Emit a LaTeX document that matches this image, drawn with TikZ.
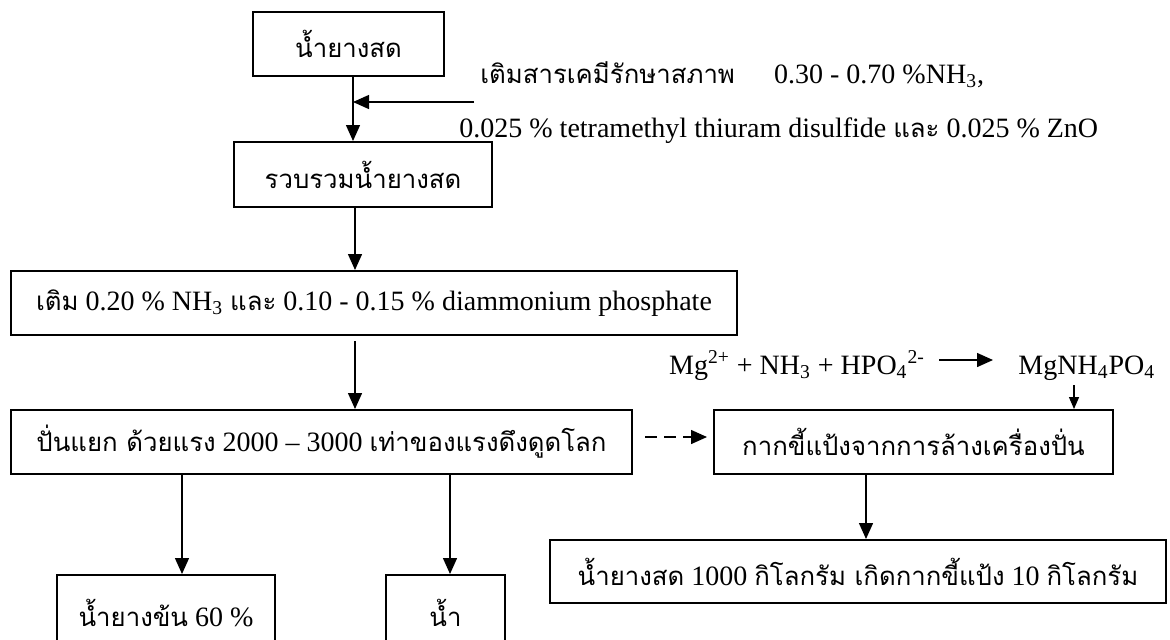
\documentclass[tikz,border=0pt]{standalone}
\usepackage{fontspec}
\setmainfont{Liberation Serif}
\newfontfamily\thaifont[Script=Thai,Scale=0.92]{Loma}
\newcommand{\T}[1]{{\thaifont #1}}
\usetikzlibrary{arrows.meta}
\begin{document}
\begin{tikzpicture}[x=0.5pt,y=-0.5pt,
  font=\fontsize{14}{16}\selectfont,
  box/.style={draw, line width=1pt, inner sep=0pt, minimum height=32pt},
  txt/.style={inner sep=0pt},
  arr/.style={line width=0.7pt, -{Triangle[width=7pt,length=8pt]}},
  arrs/.style={line width=0.7pt, -{Triangle[width=5pt,length=6pt]}},
  dsh/.style={line width=0.7pt, dash pattern=on 6pt off 3.5pt, -{Triangle[width=7pt,length=8pt]}}]
\clip (0,0) rectangle (1170,639);
\fill[white] (0,0) rectangle (1170,639);
% boxes
\node[box, minimum width=95.5pt] (b1) at (348.5,44) {\T{น้ำยางสด}};
\node[box, minimum width=129pt, minimum height=32.5pt] (b2) at (363,174.5) {\T{รวบรวมน้ำยางสด}};
\node[box, minimum width=363pt] (b3) at (374,303) {\T{เติม} 0.20 \% NH\textsubscript{3} \T{และ} 0.10 - 0.15 \% diammonium phosphate};
\node[box, minimum width=310.5pt] (b4) at (321.5,442) {\T{ปั่นแยก ด้วยแรง} 2000 -- 3000 \T{เท่าของแรงดึงดูดโลก}};
\node[box, minimum width=199.5pt] (b5) at (913.5,442) {\T{กากขี้แป้งจากการล้างเครื่องปั่น}};
\node[box, minimum width=308pt, minimum height=31.5pt] (b6) at (858,571.5) {\T{น้ำยางสด} 1000 \T{กิโลกรัม เกิดกากขี้แป้ง} 10 \T{กิโลกรัม}};
\node[box, minimum width=109pt, minimum height=38pt] (b7) at (166,613) {\T{น้ำยางข้น} 60 \%};
\node[box, minimum width=59.5pt, minimum height=38pt] (b8) at (445.5,613) {\T{น้ำ}};
% free texts
\node[txt, anchor=base west] (t1) at (480,83) {\T{เติมสารเคมีรักษาสภาพ}\hspace{1.4em}0.30 - 0.70 \%NH\textsubscript{3},};
\node[txt, anchor=base west] (t2) at (459,137) {0.025 \% tetramethyl thiuram disulfide \T{และ} 0.025 \% ZnO};
\node[txt, anchor=base] (r1) at (797,374) {Mg\textsuperscript{2+} + NH\textsubscript{3} + HPO\textsubscript{4}\textsuperscript{2-}};
\node[txt, anchor=base west] (r2) at (1018,374) {MgNH\textsubscript{4}PO\textsubscript{4}};
% helper coordinates
\coordinate (c1) at (353,0);
\coordinate (c2) at (355,0);
\coordinate (h1) at (474,102);
\coordinate (c7) at (182,0);
\coordinate (c8) at (450,0);
\coordinate (dy) at (0,437);
\coordinate (c6) at (866,0);
\coordinate (ry) at (0,360);
\coordinate (cx) at (1074,0);
% connectors
\draw[arr] (b1.south -| c1) -- (b2.north -| c1);
\draw[arr] (h1) -- (h1 -| c1);
\draw[arr] (b2.south -| c2) -- (b3.north -| c2);
\draw[arr, shorten <=2.5pt] (b3.south -| c2) -- (b4.north -| c2);
\draw[arr] (b4.south -| c7) -- (b7.north -| c7);
\draw[arr] (b4.south -| c8) -- (b8.north -| c8);
\draw[dsh, shorten <=6pt, shorten >=3pt] (b4.east |- dy) -- (b5.west |- dy);
\draw[arr] (b5.south -| c6) -- (b6.north -| c6);
\draw[arr, shorten <=7pt, shorten >=12.5pt] (r1.east |- ry) -- (r2.west |- ry);
\draw[arrs, shorten <=2.5pt] (r2.south -| cx) -- (b5.north -| cx);
\end{tikzpicture}
\end{document}
